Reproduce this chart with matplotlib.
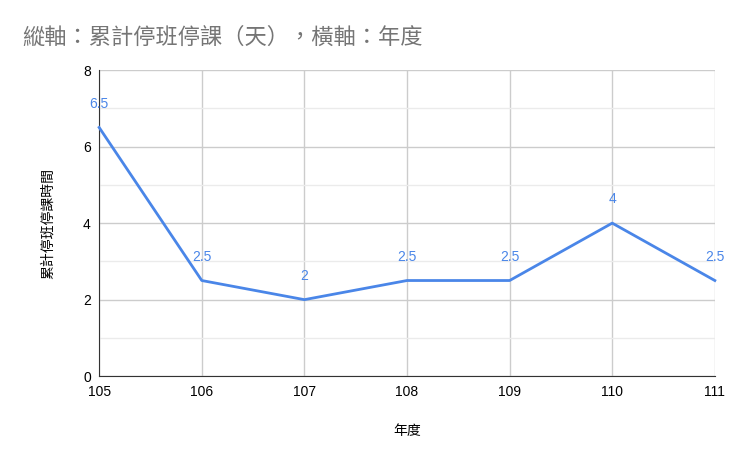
import matplotlib.pyplot as plt
from matplotlib.ticker import MultipleLocator

plt.rcParams['font.family'] = ['Noto Sans CJK TC', 'DejaVu Sans']

years = [105, 106, 107, 108, 109, 110, 111]
days = [6.5, 2.5, 2, 2.5, 2.5, 4, 2.5]
labels = ["6.5", "2.5", "2", "2.5", "2.5", "4", "2.5"]

fig = plt.figure(figsize=(7.4, 4.61), dpi=100)
ax = fig.add_axes([0.134, 0.184, 0.832, 0.664])

ax.plot(years, days, color='#4a86e8', linewidth=2, zorder=3, clip_on=False)
for x, y, t in zip(years, days, labels):
    ax.annotate(t, (x, y), xytext=(0, 12), textcoords='offset points',
                ha='center', va='bottom', fontsize=10, color='#4a86e8',
                family=['Liberation Sans', 'DejaVu Sans'])

ax.set_xlim(105, 111)
ax.set_ylim(0, 8)
ax.set_xticks(years)
ax.yaxis.set_major_locator(MultipleLocator(2))
ax.yaxis.set_minor_locator(MultipleLocator(1))
ax.grid(True, which='major', color='#cccccc', linewidth=1)
ax.grid(True, which='minor', axis='y', color='#ebebeb', linewidth=1)
ax.tick_params(which='both', length=0, labelsize=10, pad=6)
for lbl in ax.get_xticklabels() + ax.get_yticklabels():
    lbl.set_family(['Liberation Sans', 'DejaVu Sans'])
for s in ['top', 'right']:
    ax.spines[s].set_visible(False)
ax.spines['left'].set_color('#333333')
ax.spines['bottom'].set_color('#333333')

ax.set_xlabel('年度', fontsize=10, labelpad=18)
ax.set_ylabel('累計停班停課時間', fontsize=10, labelpad=20)

fig.text(0.03, 0.92, '縱軸：累計停班停課（天），橫軸：年度', fontsize=16,
         color='#757575', ha='left', va='center', fontweight='medium')

fig.savefig('out.png', dpi=100)
